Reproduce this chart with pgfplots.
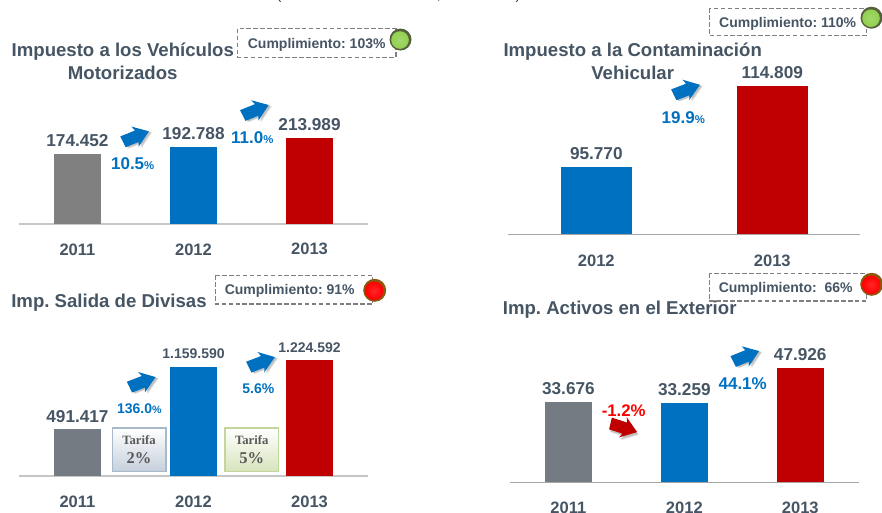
\documentclass[border=0pt]{standalone}
\usepackage{fontspec}
\setmainfont{Liberation Sans}
\newfontfamily\serifb{Liberation Serif}
\usepackage{pgfplots}
\pgfplotsset{compat=1.18}
\frenchspacing
\definecolor{txt}{HTML}{465564}
\definecolor{pblue}{HTML}{0070C0}
\definecolor{pred}{HTML}{C00000}
\definecolor{pgrayA}{HTML}{808080}
\definecolor{pgrayB}{HTML}{757B82}
\definecolor{gin}{HTML}{92D050}
\definecolor{gring}{HTML}{55603C}
\definecolor{rring}{HTML}{8A5A10}
\definecolor{dashc}{HTML}{7F7F7F}
\newcommand\F[1]{\fontsize{#1}{#1}\selectfont\bfseries}
\pgfplotsset{
  panel/.style={
    scale only axis,
    ybar, bar shift=0pt, bar width=35.25pt,
    axis y line=none,
    axis x line*=bottom,
    ymin=0,
    major tick length=0pt,
    point meta=explicit symbolic,
    nodes near coords,
    every node near coord/.style={anchor=center,inner sep=0pt,yshift=10pt,text=txt,font=\F{12.9}},
    xticklabel style={anchor=center,inner sep=0pt,yshift=-19.2pt,text=txt,font=\F{12.4}},
    axis line style={-,draw=#1,line width=1.25pt},
  },
  panel/.default={gray!50},
}
% arrow: tail x,y, angle, colour
\newcommand\arrowup[4]{%
  \begin{scope}[shift={(#1,#2)},rotate=#3]
    \foreach \d/\o in {2.4/.10,1.6/.16}{
      \fill[black,opacity=\o,shift={(\d,\d)}] (0,-6)--(16,-6)--(14,-11)--(28.5,0)--(13,10.5)--(15,6)--(1,6)--cycle;}
    \fill[#4] (0,-6)--(16,-6)--(14,-11)--(28.5,0)--(13,10.5)--(15,6)--(1,6)--cycle;
  \end{scope}}
\newcommand\cump[6]{% x1,y1,x2,y2,tx,text
  \draw[dashc,line width=1pt,dash pattern=on 3.4pt off 1.8pt] (#1,#2) rectangle (#3,#4);
  \node[anchor=center,inner sep=0pt,yshift=-1.1pt,text=txt,font=\F{10.5}] at (#5,{(#2+#4)/2}) {#6};}
\newcommand\ball[5]{% x,y,r,ring,inner
  \fill[#4] (#1,#2) circle (#3);
  \shade[inner color=#5!85!white,outer color=#5] (#1-.5,#2+.5) circle (#3-2.2);}
\newcommand\ttl[3]{\node[anchor=center,inner sep=0pt,yshift=-1.1pt,text=txt,font=\F{13.95}] at (#1,#2) {#3};}
\newcommand\pct[5]{% x,y,colour,num size,text
  \node[anchor=center,inner sep=0pt,text=#3,font=\F{#4}] at (#1,#2) {#5};}
\begin{document}
\begin{tikzpicture}[x=.75pt,y=-.75pt]
\useasboundingbox (0,0) rectangle (882,512);
\clip (0,0) rectangle (882,512);
\coordinate (a1) at (19,223.7);
\coordinate (a2) at (508.3,234.3);
\coordinate (a3) at (19,475.7);
\coordinate (a4) at (510,482.3);

% clipped heading of the slide
\node[anchor=base,inner sep=0pt,text=black!75,font=\fontsize{11}{11}\selectfont] at (279,-1) {(};
\node[anchor=base,inner sep=0pt,text=black!75,font=\fontsize{11}{11}\selectfont] at (439,-1) {,};
\node[anchor=base,inner sep=0pt,text=black!75,font=\fontsize{11}{11}\selectfont] at (518,-1) {)};

% Panel 1
\begin{axis}[panel={gray!45},at={(a1)},anchor=south west,width=261.75pt,height=82.5pt,
  xmin=-0.504,xmax=2.504,ymax=275000,xtick={0,1,2},xticklabels={2011,2012,2013}]
\addplot[fill=pgrayA,draw=none] coordinates {(0,174452)[174.452]};
\addplot[fill=pblue,draw=none] coordinates {(1,192788)[192.788]};
\addplot[fill=pred,draw=none] coordinates {(2,213989)[213.989]};
\end{axis}

% Panel 2
\begin{axis}[panel={gray!70},at={(a2)},anchor=south west,width=264pt,height=131.25pt,
  axis line style={-,draw=gray!70,line width=.7pt},
  bar width=53.25pt,
  xmin=-0.5,xmax=1.5,ymin=79950,ymax=121075,xtick={0,1},xticklabels={2012,2013},
  xticklabel style={yshift=-.5pt}]
\addplot[fill=pblue,draw=none] coordinates {(0,95770)[95.770]};
\addplot[fill=pred,draw=none] coordinates {(1,114809)[114.809]};
\end{axis}

% Panel 3
\begin{axis}[panel={gray!45},at={(a3)},anchor=south west,width=261.75pt,height=97.5pt,
  xmin=-0.504,xmax=2.504,ymax=1380600,xtick={0,1,2},xticklabels={2011,2012,2013},
  xticklabel style={yshift=-.3pt}]
\addplot[fill=pgrayB,draw=none] coordinates {(0,491417)[491.417]};
\addplot[fill=pblue,draw=none,every node near coord/.append style={font=\F{10.5},yshift=-.7pt}] coordinates {(1,1159590)[1.159.590]};
\addplot[fill=pred,draw=none,every node near coord/.append style={font=\F{10.5},yshift=-.7pt}] coordinates {(2,1224592)[1.224.592]};
\end{axis}

% Panel 4
\begin{axis}[panel={gray!70},at={(a4)},anchor=south west,width=261.5pt,height=97.5pt,
  axis line style={-,draw=gray!70,line width=.8pt},
  xmin=-0.504,xmax=2.504,ymax=54470,xtick={0,1,2},xticklabels={2011,2012,2013}]
\addplot[fill=pgrayB,draw=none] coordinates {(0,33676)[33.676]};
\addplot[fill=pblue,draw=none] coordinates {(1,33259)[33.259]};
\addplot[fill=pred,draw=none] coordinates {(2,47926)[47.926]};
\end{axis}

% Titles
\ttl{122.8}{50}{Impuesto a los Vehículos}
\ttl{122.7}{71.7}{Motorizados}
\ttl{632.7}{50}{Impuesto a la Contaminación}
\ttl{632.7}{71.7}{Vehicular}
\ttl{109}{301.7}{Imp. Salida de Divisas}
\ttl{619.7}{308.3}{Imp. Activos en el Exterior}

% Compliance boxes
\cump{237.7}{28.7}{396}{57.3}{316.7}{Cumplimiento: 103\%}
\cump{709.3}{8.3}{866.7}{35.7}{787.7}{Cumplimiento: 110\%}
\cump{215.7}{275.3}{372.7}{304}{289.7}{Cumplimiento: 91\%}
\cump{709.3}{273.3}{866.7}{301}{785.7}{Cumplimiento:\ \ 66\%}
\ball{400.5}{39.5}{11}{gring}{gin}
\ball{871.5}{17.7}{11}{gring}{gin}
\ball{374.7}{290.3}{11.5}{rring}{red}
\ball{871.7}{284.3}{11.5}{rring}{red}

% Arrows
\arrowup{122.5}{142}{22}{pblue}
\arrowup{242.3}{115.7}{22}{pblue}
\arrowup{673.3}{95}{21}{pblue}
\arrowup{129}{387.3}{21}{pblue}
\arrowup{248.3}{367.3}{21}{pblue}
\arrowup{732.7}{361.7}{22}{pblue}
\arrowup{610}{423.3}{-18}{pred}

% Percentages
\pct{132.7}{163.7}{pblue}{12.75}{10.5{\fontsize{8.5}{8.5}\selectfont\%}}
\pct{252.3}{137.7}{pblue}{12.75}{11.0{\fontsize{8.5}{8.5}\selectfont\%}}
\pct{683.3}{117.3}{pblue}{12.75}{19.9{\fontsize{8.5}{8.5}\selectfont\%}}
\pct{139.3}{408.3}{pblue}{10.5}{136.0{\fontsize{8}{8}\selectfont\%}}
\pct{258.3}{388.7}{pblue}{10.5}{5.6\%}
\pct{623.7}{410.3}{red}{12.6}{-1.2\%}
\pct{742.7}{383.3}{pblue}{12.75}{44.1\%}

% Tarifa boxes
\definecolor{tbA}{HTML}{C5CFDB}\definecolor{tbAb}{HTML}{A9B9CC}
\definecolor{tbB}{HTML}{D7E4BC}\definecolor{tbBb}{HTML}{C3D69B}
\shade[top color=white,bottom color=tbA,draw=tbAb,line width=.8pt] (112.3,428) rectangle (166,471.7);
\shade[top color=white,bottom color=tbB,draw=tbBb,line width=.8pt] (225,428) rectangle (278.3,471.7);
\node[anchor=center,inner sep=0pt,text=black!65,font=\serifb\F{9.5}] at (139,440) {Tarifa};
\node[anchor=center,inner sep=0pt,text=black!65,font=\serifb\F{12.4}] at (139,457.7) {2\%};
\node[anchor=center,inner sep=0pt,text=black!65,font=\serifb\F{9.5}] at (251.7,440) {Tarifa};
\node[anchor=center,inner sep=0pt,text=black!65,font=\serifb\F{12.4}] at (251.7,457.7) {5\%};
\end{tikzpicture}
\end{document}
